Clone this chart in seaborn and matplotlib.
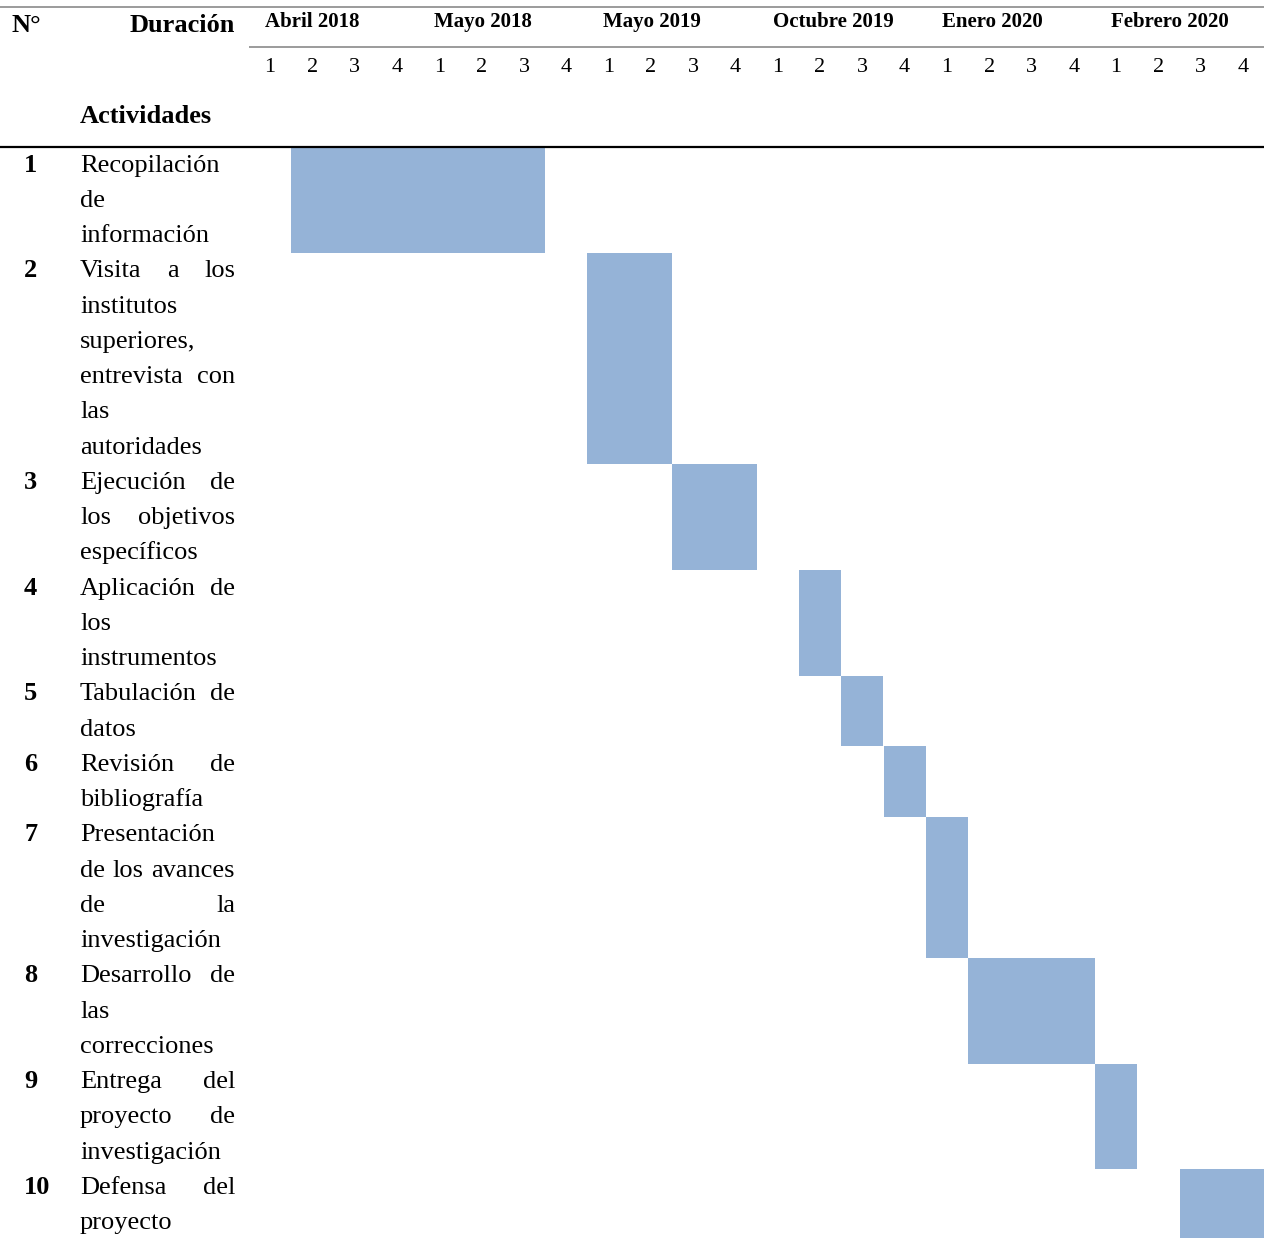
import numpy as np
import matplotlib
matplotlib.use("Agg")
import matplotlib.pyplot as plt
import matplotlib.transforms as mtransforms
from matplotlib import font_manager
import seaborn as sns

# ---- schedule data -------------------------------------------------------
months = ["Abril 2018", "Mayo 2018", "Mayo 2019", "Octubre 2019",
          "Enero 2020", "Febrero 2020"]
weeks_per_month = 4
activity_ids = ["1", "2", "3", "4", "5", "6", "7", "8", "9", "10"]
activity_lines = [
    ["Recopilación", "de", "información"],
    ["Visita a los", "institutos", "superiores,", "entrevista con", "las",
     "autoridades"],
    ["Ejecución de", "los objetivos", "específicos"],
    ["Aplicación de", "los", "instrumentos"],
    ["Tabulación de", "datos"],
    ["Revisión de", "bibliografía"],
    ["Presentación", "de los avances", "de la", "investigación"],
    ["Desarrollo de", "las", "correcciones"],
    ["Entrega del", "proyecto de", "investigación"],
    ["Defensa del", "proyecto"],
]
start_week = [1, 8, 10, 13, 14, 15, 16, 17, 20, 22]
duration_weeks = [6, 2, 2, 1, 1, 1, 1, 3, 1, 2]

# ---- style ---------------------------------------------------------------
sns.set_theme(style="white")
serif_names = [f.name for f in font_manager.fontManager.ttflist]
serif_choice = [n for n in ["Liberation Serif", "Times New Roman",
                            "Nimbus Roman", "DejaVu Serif"] if n in serif_names]
plt.rcParams["font.family"] = "serif"
plt.rcParams["font.serif"] = serif_choice
plt.rcParams["text.color"] = "black"
BAR_COLOR = "#95B3D7"
RULE_GREY = "#808080"

W, H = 1266, 1238
fig = plt.figure(figsize=(W / 100, H / 100), dpi=100)
fig.patch.set_facecolor("white")

# layout axes in pixel units (y grows downward)
lay = fig.add_axes([0, 0, 1, 1])
lay.set_xlim(0, W)
lay.set_ylim(H, 0)
lay.axis("off")

grid_left, grid_right = 249.0, 1264.2
body_top = 147.0
line_h = 35.25
text_left, text_right = 80.0, 235.0
n_weeks = len(months) * weeks_per_month

# Gantt axes: x in weeks, y in text lines below the header rule
gx = fig.add_axes([grid_left / W, 0, (grid_right - grid_left) / W,
                   (H - body_top) / H])
gx.set_xlim(0, n_weeks)
gx.set_ylim((H - body_top) / line_h, 0)
gx.axis("off")
gx.set_zorder(0)
lay.set_zorder(1)

row_heights = np.array([len(l) for l in activity_lines])
row_tops = np.concatenate([[0], np.cumsum(row_heights)[:-1]])
gx.barh(row_tops, duration_weeks, left=start_week, height=row_heights,
        align="edge", color=BAR_COLOR, linewidth=0)

# ---- header rules ---------------------------------------------------------
lay.plot([0, grid_right], [7, 7], color=RULE_GREY, lw=1.1,
         solid_capstyle="butt")
lay.plot([grid_left, grid_right], [47, 47], color=RULE_GREY, lw=1.1,
         solid_capstyle="butt")
lay.plot([0, grid_right], [body_top, body_top], color="black", lw=1.6,
         solid_capstyle="butt")

# ---- header text ---------------------------------------------------------
lay.text(12, 31.7, "N°", fontsize=19, fontweight="bold", ha="left",
         va="baseline")
lay.text(text_right, 31.7, "Duración", fontsize=19, fontweight="bold",
         ha="right", va="baseline")
lay.text(text_left, 123.3, "Actividades", fontsize=19, fontweight="bold",
         ha="left", va="baseline")

week_tr = mtransforms.blended_transform_factory(gx.transData, lay.transData)
for m, name in enumerate(months):
    lay.text(m * weeks_per_month + 0.38, 27.3, name, transform=week_tr,
             fontsize=15, fontweight="bold", ha="left", va="baseline")
for k in range(n_weeks):
    lay.text(k + 0.5, 71.5, str(k % weeks_per_month + 1), transform=week_tr,
             fontsize=16, ha="center", va="baseline")

# ---- activity column (justified lines) -------------------------------------
renderer = fig.canvas.get_renderer()
for i, lines in enumerate(activity_lines):
    first_base = body_top + line_h * row_tops[i] + 24.7
    lay.text(24, first_base, activity_ids[i], fontsize=19, fontweight="bold",
             ha="left", va="baseline")
    for j, line in enumerate(lines):
        base = body_top + line_h * (row_tops[i] + j) + 24.7
        words = line.split()
        if len(words) == 1 or j == len(lines) - 1:
            lay.text(text_left, base, line, fontsize=19, ha="left",
                     va="baseline")
            continue
        objs = [lay.text(0, base, w, fontsize=19, ha="left", va="baseline")
                for w in words]
        widths = [o.get_window_extent(renderer).width for o in objs]
        gap = (text_right - text_left - sum(widths)) / (len(words) - 1)
        x = text_left
        for o, w in zip(objs, widths):
            o.set_x(x)
            x += w + gap

fig.savefig("out.png", dpi=100, facecolor="white")
